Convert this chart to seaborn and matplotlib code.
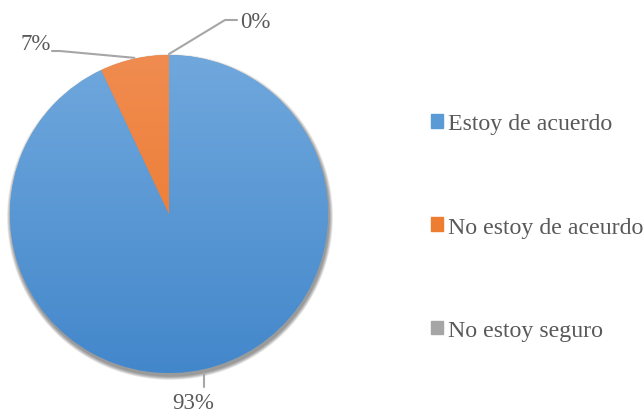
import numpy as np
import matplotlib
matplotlib.use("Agg")
import matplotlib.pyplot as plt
import matplotlib.patches as mpatches
import seaborn as sns

# data
categories = ["Estoy de acuerdo", "No estoy de aceurdo", "No estoy seguro"]
shares = [93, 7, 0]
pct_labels = ["93%", "7%", "0%"]
colors = ["#5B9BD5", "#ED7D31", "#A5A5A5"]
# gradient ends (top, bottom) for each slice
grad_top = ["#70A8DD", "#F08C50", "#B0B0B0"]
grad_bot = ["#4387CB", "#EC7424", "#999999"]

sns.set_theme(style="white")
plt.rcParams['font.family'] = ['Liberation Serif', 'DejaVu Serif']
text_col = "#595959"

fig = plt.figure(figsize=(6.44, 4.14), dpi=100)
ax = fig.add_axes([0, 0, 1, 1])

cx, cy, r = 169, 199, 159

# soft shadow under the pie
for k in range(8, 0, -1):
    ax.add_patch(mpatches.Circle((cx + 1, cy - 3), r + k * 0.5, color="black",
                                 alpha=0.06, lw=0, zorder=0))

wedges, _ = ax.pie(shares, colors=colors, startangle=90, counterclock=False,
                   center=(cx, cy), radius=r, wedgeprops=dict(linewidth=0), frame=False)

# vertical gradient on each wedge (lighter at top)
grad = np.linspace(0, 1, 256).reshape(-1, 1, 1)
for w, t, b in zip(wedges, grad_top, grad_bot):
    top = np.array(matplotlib.colors.to_rgb(t))
    bot = np.array(matplotlib.colors.to_rgb(b))
    img = top * (1 - grad) + bot * grad
    im = ax.imshow(img, extent=(cx - r, cx + r, cy - r, cy + r), origin="upper",
                   aspect="auto", zorder=2, interpolation="bilinear")
    im.set_clip_path(w)
ax.set_xlim(0, 644)
ax.set_ylim(0, 414)
ax.axis("off")

# data labels with leader lines
lc = "#A6A6A6"
label_pos = {0: (193, 10), 1: (36, 369), 2: (255, 392)}
for i, w in enumerate(wedges):
    mid = np.deg2rad((w.theta1 + w.theta2) / 2)
    ex, ey = cx + r * np.cos(mid), cy + r * np.sin(mid)
    tx, ty = label_pos[i]
    if i == 0:
        ax.plot([ex, ex], [ey - 4, ty + 16], color=lc, lw=1.5, zorder=3)
    elif i == 1:
        ax.plot([ex, tx + 24, tx + 16], [ey + 1, ty - 7, ty - 7], color=lc, lw=1.5, zorder=3)
    else:
        ax.plot([ex, tx - 30, tx - 18], [ey + 1, ty + 1, ty + 1], color=lc, lw=1.5, zorder=3)
    ax.text(tx, ty, pct_labels[i], ha="center", va="center", fontsize=16.5, color=text_col)

# legend
handles = [mpatches.Patch(color=c, label=l) for c, l in zip(colors, categories)]
leg = ax.legend(handles=handles, loc="center left", bbox_to_anchor=(0.655, 0.449),
                frameon=False, fontsize=17.2, handlelength=0.5, handleheight=0.5,
                handletextpad=0.2, labelspacing=3.45, borderaxespad=0)
for t in leg.get_texts():
    t.set_color(text_col)

fig.savefig("out.png", dpi=100)
